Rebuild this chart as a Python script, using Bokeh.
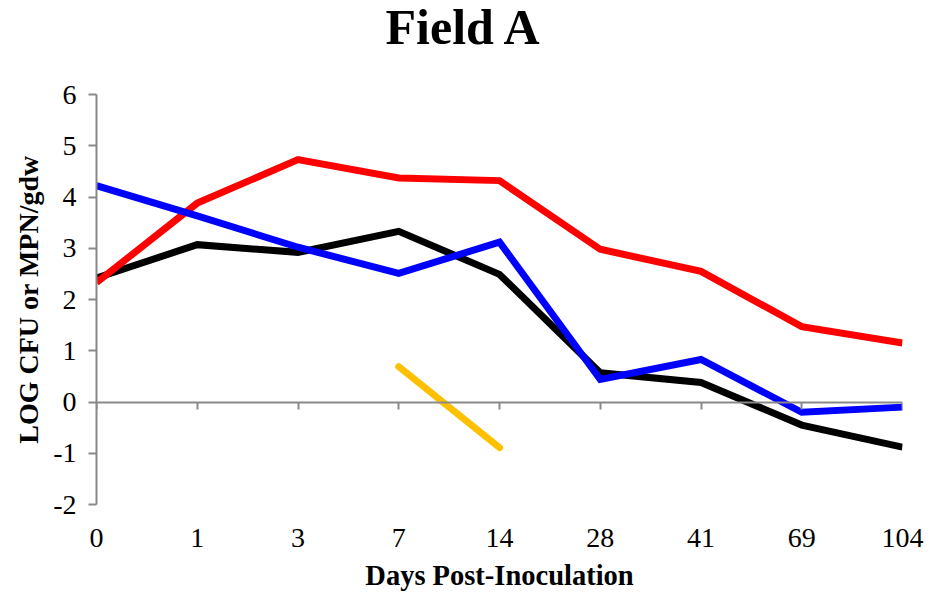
import math

from bokeh.embed import file_html
from bokeh.models import ColumnDataSource, FixedTicker, LinearAxis, Range1d, Title
from bokeh.plotting import figure
from bokeh.resources import INLINE

# Sampling days (categorical axis, evenly spaced)
days = ["0", "1", "3", "7", "14", "28", "41", "69", "104"]

# LOG CFU or MPN per gram dry weight
black_series = [2.42, 3.07, 2.92, 3.33, 2.49, 0.57, 0.38, -0.45, -0.88]
red_series = [2.33, 3.88, 4.73, 4.37, 4.32, 2.98, 2.55, 1.47, 1.15]
blue_series = [4.22, 3.63, 3.02, 2.51, 3.12, 0.44, 0.83, -0.20, -0.10]
orange_series = [math.nan, math.nan, math.nan, 0.69, -0.89, math.nan, math.nan, math.nan, math.nan]

y_ticks = [-2, -1, 0, 1, 2, 3, 4, 5, 6]

positions = list(range(len(days)))
source = ColumnDataSource(dict(
    x=positions,
    black=black_series,
    red=red_series,
    blue=blue_series,
    orange=orange_series,
))

SERIF = "Liberation Serif"
AXIS_GRAY = "#898989"

p = figure(
    width=930, height=598,
    x_range=Range1d(0, len(days) - 1),
    y_range=Range1d(min(y_ticks), max(y_ticks)),
    output_backend="svg", toolbar_location=None,
    x_axis_location=None, y_axis_location=None,
    min_border_left=96, min_border_right=28,
    min_border_top=94, min_border_bottom=94,
)
p.outline_line_color = None
p.xgrid.visible = False
p.ygrid.visible = False
p.background_fill_color = "white"
p.border_fill_color = "white"

# Blank band between the title and the plot area, so the title sits near the top edge
p.add_layout(Title(text=" ", text_font_size="1px", standoff=39), "above")

# Title
p.title.text = "Field A"
p.title.text_font = SERIF
p.title.text_font_size = "50px"
p.title.text_font_style = "bold"
p.title.text_color = "black"
p.title.align = "left"
p.title.vertical_align = "top"
p.title.offset = 289
p.title.standoff = -8

# Left axis (plain hyphen for negatives)
yaxis = LinearAxis(
    ticker=FixedTicker(ticks=y_ticks, minor_ticks=[]),
    major_label_overrides={t: str(t) for t in y_ticks},
    axis_label="LOG CFU or MPN/gdw",
    axis_label_text_font=SERIF,
    axis_label_text_font_size="28px",
    axis_label_text_font_style="bold",
    axis_label_text_color="black",
    axis_label_standoff=6,
    major_label_text_font=SERIF,
    major_label_text_font_size="28px",
    major_label_text_color="black",
    major_label_standoff=12,
    axis_line_color=AXIS_GRAY, axis_line_width=2,
    major_tick_line_color=AXIS_GRAY, major_tick_line_width=2,
    major_tick_in=0, major_tick_out=8,
    minor_tick_line_color=None,
)
p.add_layout(yaxis, "left")

# Zero line with day ticks
zero_axis = LinearAxis(
    fixed_location=0,
    ticker=FixedTicker(ticks=positions, minor_ticks=[]),
    major_label_text_color=None,
    axis_line_color=AXIS_GRAY, axis_line_width=2,
    major_tick_line_color=AXIS_GRAY, major_tick_line_width=2,
    major_tick_in=0, major_tick_out=7,
    minor_tick_line_color=None,
)
p.add_layout(zero_axis, "below")

# Day labels and axis title along the bottom
day_axis = LinearAxis(
    ticker=FixedTicker(ticks=positions, minor_ticks=[]),
    major_label_overrides={i: d for i, d in enumerate(days)},
    major_label_text_font=SERIF,
    major_label_text_font_size="28px",
    major_label_text_color="black",
    major_label_standoff=18,
    axis_label="Days Post-Inoculation",
    axis_label_text_font=SERIF,
    axis_label_text_font_size="28.5px",
    axis_label_text_font_style="bold",
    axis_label_text_color="black",
    axis_label_standoff=10,
    axis_line_color=None,
    major_tick_line_color=None,
    minor_tick_line_color=None,
)
p.add_layout(day_axis, "below")

# Series
p.line("x", "black", source=source, line_color="black", line_width=7, line_join="miter")
p.line("x", "red", source=source, line_color="#ff0000", line_width=7, line_join="miter")
p.line("x", "blue", source=source, line_color="#0000ff", line_width=7, line_join="miter")
p.line("x", "orange", source=source, line_color="#ffc000", line_width=7, line_cap="round")

open("out.html", "w").write(file_html(p, INLINE))
